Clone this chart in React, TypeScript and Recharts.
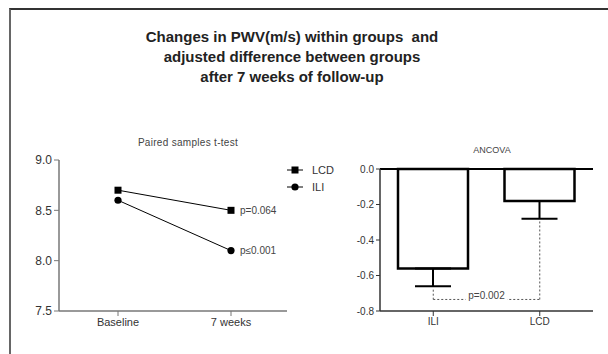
import React from 'react'
import {
  LineChart,
  Line,
  BarChart,
  Bar,
  XAxis,
  YAxis,
  ErrorBar,
  ReferenceLine,
  LabelList,
} from 'recharts'

// PWV (m/s) by time point, per diet group
const timePoints = ['Baseline', '7 weeks']
const lcdPwv = [8.7, 8.5]
const iliPwv = [8.6, 8.1]
const lcdNotes = ['', 'p=0.064']
const iliNotes = ['', 'p≤0.001']
const pwvTicks = [7.5, 8.0, 8.5, 9.0]

// ANCOVA adjusted change, with lower error
const groups = ['ILI', 'LCD']
const adjChange = [-0.56, -0.18]
const adjError = [0.1, 0.1]
const changeTicks = [-0.8, -0.6, -0.4, -0.2, 0]
const pBetween = 'p=0.002'

const FONT = '"Liberation Sans", Arial, Helvetica, sans-serif'
const TEXT = '#333'

const pwvData = timePoints.map((t, i) => ({
  time: t,
  lcd: lcdPwv[i],
  ili: iliPwv[i],
  lcdNote: lcdNotes[i],
  iliNote: iliNotes[i],
}))

const ancovaData = groups.map((g, i) => ({
  group: g,
  change: adjChange[i],
  err: [adjError[i], 0],
}))

const SquareDot = (props: any) => {
  const { cx, cy, index } = props
  return <rect key={`sq-${index}`} x={cx - 3.5} y={cy - 3.5} width={7} height={7} fill="#000" />
}

const RoundDot = (props: any) => {
  const { cx, cy, index } = props
  return <circle key={`ci-${index}`} cx={cx} cy={cy} r={3.6} fill="#000" />
}

const noteLabel = (props: any) => {
  const { x, y, value } = props
  if (!value) return null
  return (
    <text x={x + 9} y={y} dy={3.5} fontSize={10} fill="#444" fontFamily={FONT}>
      {value}
    </text>
  )
}

const bracketLabel = (props: any) => {
  const vb = props.viewBox || {}
  const cx = (vb.x ?? 0) + (vb.width ?? 0) / 2
  const cy = vb.y ?? 0
  return (
    <g>
      <rect x={cx - 21} y={cy - 8} width={42} height={10} fill="#fff" />
      <text x={cx} y={cy} textAnchor="middle" fontSize={10} fill="#444" fontFamily={FONT}>
        {pBetween}
      </text>
    </g>
  )
}

export default function App() {
  const dotted = { stroke: '#555', strokeWidth: 1, strokeDasharray: '2 2' }

  return (
    <div
      style={{
        position: 'absolute',
        left: 0,
        top: 0,
        width: 608,
        height: 354,
        background: '#fff',
        fontFamily: FONT,
        overflow: 'hidden',
      }}
    >
      {/* frame */}
      <div
        style={{
          position: 'absolute',
          left: 9,
          top: 8,
          right: -4,
          bottom: -4,
          borderTop: '2px solid #333',
          borderLeft: '2px solid #666',
        }}
      />

      <div
        style={{
          position: 'absolute',
          left: 92,
          top: 27,
          width: 400,
          textAlign: 'center',
          fontSize: 15,
          fontWeight: 'bold',
          lineHeight: '20px',
          color: '#222',
        }}
      >
        Changes in PWV(m/s) within groups&nbsp; and
        <br />
        adjusted difference between groups
        <br />
        after 7 weeks of follow-up
      </div>

      <div
        style={{
          position: 'absolute',
          left: 88,
          top: 137,
          width: 200,
          textAlign: 'center',
          fontSize: 10,
          letterSpacing: 0.3,
          color: '#444',
        }}
      >
        Paired samples t-test
      </div>

      <div
        style={{
          position: 'absolute',
          left: 442,
          top: 145,
          width: 100,
          textAlign: 'center',
          fontSize: 9,
          color: '#444',
        }}
      >
        ANCOVA
      </div>

      {/* legend */}
      <svg style={{ position: 'absolute', left: 280, top: 160 }} width={70} height={36}>
        <line x1={7} y1={10} x2={23} y2={10} stroke="#000" strokeWidth={1} />
        <rect x={11.5} y={6.5} width={7} height={7} fill="#000" />
        <text x={32} y={14} fontSize={11} fill={TEXT} fontFamily={FONT}>
          LCD
        </text>
        <line x1={7} y1={27} x2={23} y2={27} stroke="#000" strokeWidth={1} />
        <circle cx={15} cy={27} r={3.6} fill="#000" />
        <text x={32} y={31} fontSize={11} fill={TEXT} fontFamily={FONT}>
          ILI
        </text>
      </svg>

      <div style={{ position: 'absolute', left: 19, top: 130 }}>
        <LineChart
          width={268}
          height={211}
          data={pwvData}
          margin={{ top: 30, right: 0, left: 0, bottom: 0 }}
        >
          <XAxis
            dataKey="time"
            height={30}
            padding={{ left: 59, right: 56 }}
            axisLine={{ stroke: '#777', strokeWidth: 1.5 }}
            tickLine={{ stroke: '#777' }}
            tickSize={5}
            tick={{ fontSize: 11, fill: TEXT, fontFamily: FONT }}
          />
          <YAxis
            width={40}
            domain={[7.5, 9.0]}
            ticks={pwvTicks}
            tickFormatter={(v: number) => v.toFixed(1)}
            axisLine={{ stroke: '#777', strokeWidth: 1.5 }}
            tickLine={{ stroke: '#777' }}
            tickSize={5}
            tick={{ fontSize: 12, fill: TEXT, fontFamily: FONT }}
          />
          <Line
            dataKey="lcd"
            stroke="#000"
            strokeWidth={1}
            dot={SquareDot}
            activeDot={false}
            isAnimationActive={false}
          >
            <LabelList dataKey="lcdNote" content={noteLabel} />
          </Line>
          <Line
            dataKey="ili"
            stroke="#000"
            strokeWidth={1}
            dot={RoundDot}
            activeDot={false}
            isAnimationActive={false}
          >
            <LabelList dataKey="iliNote" content={noteLabel} />
          </Line>
        </LineChart>
      </div>

      <div style={{ position: 'absolute', left: 340, top: 129 }}>
        <BarChart
          width={253}
          height={212}
          data={ancovaData}
          margin={{ top: 40, right: 0, left: 0, bottom: 0 }}
        >
          <XAxis
            dataKey="group"
            height={30}
            axisLine={{ stroke: '#333', strokeWidth: 1.5 }}
            tickLine={{ stroke: '#333' }}
            tickSize={5}
            tick={{ fontSize: 10, fill: TEXT, fontFamily: FONT }}
          />
          <YAxis
            width={40}
            domain={[-0.8, 0]}
            ticks={changeTicks}
            tickFormatter={(v: number) => v.toFixed(1)}
            axisLine={{ stroke: '#333', strokeWidth: 1.5 }}
            tickLine={{ stroke: '#333' }}
            tickSize={4}
            tick={{ fontSize: 10, fill: TEXT, fontFamily: FONT }}
          />
          <Bar
            dataKey="change"
            barSize={70}
            fill="#fff"
            stroke="#000"
            strokeWidth={2.5}
            isAnimationActive={false}
          >
            <ErrorBar
              dataKey="err"
              width={18}
              stroke="#000"
              strokeWidth={2}
              isAnimationActive={false}
            />
          </Bar>
          <ReferenceLine y={0} stroke="#000" strokeWidth={2} />
          <ReferenceLine
            segment={[
              { x: 'ILI', y: -0.68 },
              { x: 'ILI', y: -0.735 },
            ]}
            {...dotted}
          />
          <ReferenceLine
            segment={[
              { x: 'ILI', y: -0.735 },
              { x: 'LCD', y: -0.735 },
            ]}
            {...dotted}
            label={bracketLabel}
          />
          <ReferenceLine
            segment={[
              { x: 'LCD', y: -0.735 },
              { x: 'LCD', y: -0.29 },
            ]}
            {...dotted}
          />
        </BarChart>
      </div>
    </div>
  )
}
